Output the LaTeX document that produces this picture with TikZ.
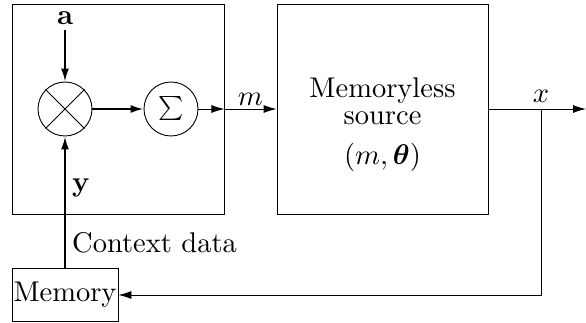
\documentclass[tikz,border=0pt]{standalone}
\usepackage{amsmath,bm}
\usetikzlibrary{arrows.meta}
\newcommand{\bigtext}[1]{\scalebox{2.85}{#1}}
\begin{document}
\begin{tikzpicture}[x=1pt,y=-1pt,
  thinline/.style={line width=0.9pt},
  thickline/.style={line width=2pt},
  arr/.style={-{Latex[length=13pt,width=8pt]}},
  block/.style={draw,thinline,inner sep=0pt},
  op/.style={draw,thinline,circle,minimum size=54pt,inner sep=0pt},
  lbl/.style={inner sep=0pt}]
\useasboundingbox (0,0) rectangle (586,323);
\node[block,minimum width=212pt,minimum height=210pt] (lbox) at (118,109) {};
\node[block,minimum width=211pt,minimum height=210pt] (src) at (382.5,109) {};
\node[lbl,anchor=base] (t1) at (382.5,98) {\bigtext{Memoryless}};
\node[lbl,anchor=base] (t2) at (382.5,125) {\bigtext{source}};
\node[lbl,anchor=base] (t3) at (382.5,165) {\bigtext{$(m,\bm{\theta})$}};
\node[op] (mul) at (65,109) {};
\draw[thinline] (mul.north west) -- (mul.south east);
\draw[thinline] (mul.north east) -- (mul.south west);
\node[op] (sum) at (171,109) {\scalebox{2.4}{$\sum$}};
\node[lbl,anchor=base] (a) at (65,25) {\bigtext{$\mathbf{a}$}};
\node[block,minimum width=106pt,minimum height=53pt] (mem) at (65,294.5) {\bigtext{Memory}};
\coordinate (out) at (586,109);
\coordinate (tap) at (541,109);
\coordinate (corner) at (541,295);
\draw[thickline,arr] (65,30) -- (mul.north);
\draw[thickline,arr] (mul.east) -- (sum.west);
\draw[thinline,arr] (sum.east) -- (sum-|lbox.east);
\draw[thinline,arr] (sum-|lbox.east) -- node[lbl,above=3pt] (m) {\bigtext{$m$}} (src.west|-sum);
\draw[thinline,arr] (src.east|-out) -- (out);
\node[lbl,above=6pt] (x) at (tap) {\bigtext{$x$}};
\draw[thinline,arr] (tap) -- (corner) -- (mem.east|-corner);
\draw[thickline,arr] (mem.north) -- (mul.south);
\node[lbl,anchor=base west] (y) at (72,192) {\bigtext{$\mathbf{y}$}};
\node[lbl,anchor=base west] (ctx) at (72,252) {\bigtext{Context data}};
\end{tikzpicture}
\end{document}
